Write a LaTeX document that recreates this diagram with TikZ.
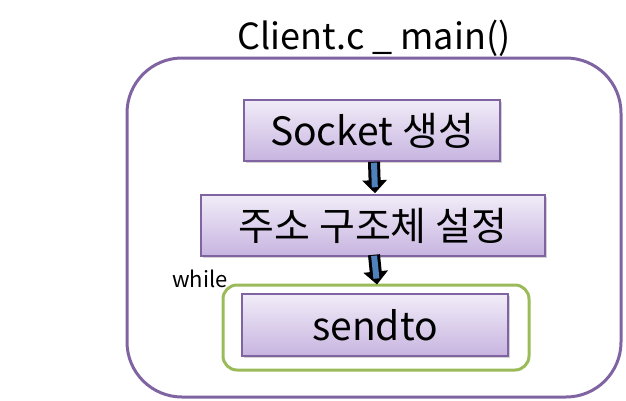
\documentclass[tikz,border=0pt]{standalone}
\usepackage{fontspec}
\setmainfont{Noto Sans CJK KR}
\usetikzlibrary{arrows.meta,shadows}
\definecolor{frame}{HTML}{8064A2}
\definecolor{loopg}{HTML}{9BBB59}
\definecolor{btop}{HTML}{F1ECF8}
\definecolor{bbot}{HTML}{C7B4E0}
\definecolor{shaft}{HTML}{4F81BD}
\tikzset{
  box/.style={draw=frame, line width=1.5pt, top color=btop, bottom color=bbot,
    inner sep=0pt, font=\fontsize{39}{41}\selectfont,
    drop shadow={opacity=0.35, shadow xshift=2pt, shadow yshift=-2pt}},
  outline/.style={draw=frame, line width=3pt, rounded corners=55pt, inner sep=0pt},
  loopbox/.style={draw=loopg, line width=3pt, rounded corners=14pt, inner sep=0pt},
  flowout/.style={black, line width=12pt, -{Triangle[length=13pt,width=24pt]}},
  flowin/.style={shaft, line width=6pt, shorten >=6pt, shorten <=1pt}
}
\begin{document}
\begin{tikzpicture}[x=1pt,y=-1pt]
\useasboundingbox (0,0) rectangle (626,400);
\node[outline, minimum width=494pt, minimum height=339pt] (main) at (374,227.5) {};
\node[font=\fontsize{36}{38}\selectfont] (title) at (374,38) {Client.c \_ main()};
\node[loopbox, minimum width=306pt, minimum height=85pt] (loop) at (376,327.5) {};
\node[box, minimum width=256pt, minimum height=61pt] (b1) at (372,130.5) {Socket 생성};
\node[box, minimum width=344pt, minimum height=61pt] (b2) at (373,225.5) {주소 구조체 설정};
\node[box, minimum width=266pt, minimum height=62pt] (b3) at (375,325) {sendto};
\node[font=\fontsize{22}{24}\selectfont] (while) at (200,279) {while};
\draw[flowout] ([xshift=2pt]b1.south) -- ([xshift=2pt,yshift=1pt]b2.north);
\draw[flowin] ([xshift=2pt]b1.south) -- ([xshift=2pt,yshift=1pt]b2.north);
\draw[flowout] ([xshift=1pt,yshift=2pt]b2.south) -- ([xshift=1pt,yshift=-1pt]loop.north);
\draw[flowin] ([xshift=1pt,yshift=2pt]b2.south) -- ([xshift=1pt,yshift=-1pt]loop.north);
\end{tikzpicture}
\end{document}
